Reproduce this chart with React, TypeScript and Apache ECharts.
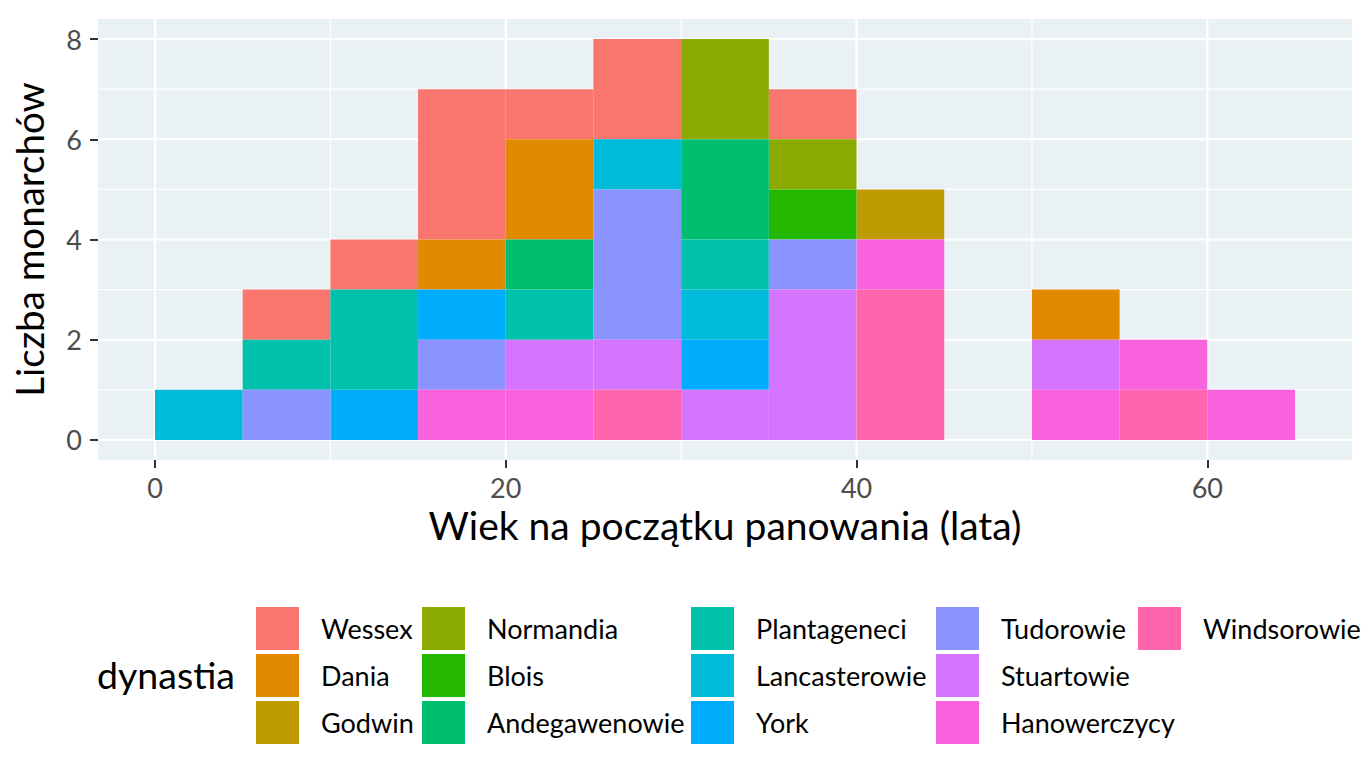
import React, { useEffect, useRef } from "react";
import * as echarts from "echarts";

// przedziały wieku (szerokość 5 lat)
const binStarts = [0, 5, 10, 15, 20, 25, 30, 35, 40, 45, 50, 55, 60];
const binWidth = 5;

const dynasties = [
	"Wessex",
	"Dania",
	"Godwin",
	"Normandia",
	"Blois",
	"Andegawenowie",
	"Plantageneci",
	"Lancasterowie",
	"York",
	"Tudorowie",
	"Stuartowie",
	"Hanowerczycy",
	"Windsorowie",
];

const colors = [
	"#F8766D",
	"#E18A00",
	"#BE9C00",
	"#8CAB00",
	"#24B700",
	"#00BE70",
	"#00C1AB",
	"#00BBDA",
	"#00ACFC",
	"#8B93FF",
	"#D575FE",
	"#F962DD",
	"#FF65AC",
];

// liczba monarchów w każdym przedziale
const wessex = [0, 1, 1, 3, 1, 2, 0, 1, 0, 0, 0, 0, 0];
const dania = [0, 0, 0, 1, 2, 0, 0, 0, 0, 0, 1, 0, 0];
const godwin = [0, 0, 0, 0, 0, 0, 0, 0, 1, 0, 0, 0, 0];
const normandia = [0, 0, 0, 0, 0, 0, 2, 1, 0, 0, 0, 0, 0];
const blois = [0, 0, 0, 0, 0, 0, 0, 1, 0, 0, 0, 0, 0];
const andegawenowie = [0, 0, 0, 0, 1, 0, 2, 0, 0, 0, 0, 0, 0];
const plantageneci = [0, 1, 2, 0, 1, 0, 1, 0, 0, 0, 0, 0, 0];
const lancasterowie = [1, 0, 0, 0, 0, 1, 1, 0, 0, 0, 0, 0, 0];
const york = [0, 0, 1, 1, 0, 0, 1, 0, 0, 0, 0, 0, 0];
const tudorowie = [0, 1, 0, 1, 0, 3, 0, 1, 0, 0, 0, 0, 0];
const stuartowie = [0, 0, 0, 0, 1, 1, 1, 3, 0, 0, 1, 0, 0];
const hanowerczycy = [0, 0, 0, 1, 1, 0, 0, 0, 1, 0, 1, 1, 1];
const windsorowie = [0, 0, 0, 0, 0, 1, 0, 0, 3, 0, 0, 1, 0];

const counts = [
	wessex,
	dania,
	godwin,
	normandia,
	blois,
	andegawenowie,
	plantageneci,
	lancasterowie,
	york,
	tudorowie,
	stuartowie,
	hanowerczycy,
	windsorowie,
];

const xTicks = [0, 20, 40, 60];
const xMinor = [10, 30, 50];
const yTicks = [0, 2, 4, 6, 8];
const yMinor = [1, 3, 5, 7];

// kolumny legendy
const legendCols = [
	["Wessex", "Dania", "Godwin"],
	["Normandia", "Blois", "Andegawenowie"],
	["Plantageneci", "Lancasterowie", "York"],
	["Tudorowie", "Stuartowie", "Hanowerczycy"],
	["Windsorowie"],
];
const legendLefts = [256, 422, 691, 936, 1138];

const FONT = "Lato";

const App: React.FC = () => {
	const chartRef = useRef<HTMLDivElement>(null);

	useEffect(() => {
		if (!chartRef.current) return;
		const chart = echarts.init(chartRef.current, null, { renderer: "svg" });

		// stos: ostatnia dynastia na dole
		const base = binStarts.map(() => 0);
		const stacked: number[][][] = dynasties.map(() => []);
		for (let d = dynasties.length - 1; d >= 0; d--) {
			counts[d].forEach((c, i) => {
				if (c > 0) {
					stacked[d].push([binStarts[i], binStarts[i] + binWidth, base[i], base[i] + c]);
					base[i] += c;
				}
			});
		}

		const barSeries = dynasties.map((name, d) => ({
			type: "custom",
			name,
			z: 3,
			silent: true,
			itemStyle: { color: colors[d] },
			encode: { x: [0, 1], y: [2, 3] },
			data: stacked[d],
			renderItem: (_params: any, api: any) => {
				const p0 = api.coord([api.value(0), api.value(3)]);
				const p1 = api.coord([api.value(1), api.value(2)]);
				return {
					type: "rect",
					shape: { x: p0[0], y: p0[1], width: p1[0] - p0[0], height: p1[1] - p0[1] },
					style: { fill: colors[d] },
				};
			},
		}));

		// linie siatki: [kierunek, wartość, główna]
		const gridData = [
			...xMinor.map((v) => [0, v, 0]),
			...yMinor.map((v) => [1, v, 0]),
			...xTicks.map((v) => [0, v, 1]),
			...yTicks.map((v) => [1, v, 1]),
		];

		const gridSeries = {
			type: "custom",
			name: "siatka",
			z: 1,
			silent: true,
			data: gridData,
			encode: { x: 1, y: 1 },
			renderItem: (params: any, api: any) => {
				const cs = params.coordSys;
				const v = api.value(1);
				const w = api.value(2) ? 2.2 : 1.1;
				if (api.value(0) === 0) {
					const x = api.coord([v, 0])[0];
					return {
						type: "line",
						shape: { x1: x, y1: cs.y, x2: x, y2: cs.y + cs.height },
						style: { stroke: "#ffffff", lineWidth: w },
					};
				}
				const y = api.coord([0, v])[1];
				return {
					type: "line",
					shape: { x1: cs.x, y1: y, x2: cs.x + cs.width, y2: y },
					style: { stroke: "#ffffff", lineWidth: w },
				};
			},
		};

		const legends = legendCols.map((col, i) => ({
			orient: "vertical",
			left: legendLefts[i],
			top: 607,
			padding: 0,
			itemGap: 4,
			itemWidth: 43,
			itemHeight: 43,
			icon: "rect",
			selectedMode: false,
			data: col.map((name) => ({
				name,
				itemStyle: { color: colors[dynasties.indexOf(name)] },
			})),
			textStyle: {
				fontFamily: FONT,
				fontSize: 27,
				color: "#000",
				padding: [0, 0, 0, 17],
			},
		}));

		const option: any = {
			animation: false,
			backgroundColor: "#ffffff",
			grid: {
				left: 98,
				top: 19,
				right: 20,
				bottom: 324,
				show: true,
				backgroundColor: "#EAF1F5",
				borderWidth: 0,
			},
			xAxis: {
				type: "value",
				min: -3.25,
				max: 68.25,
				splitLine: { show: false },
				axisLine: { show: false, onZero: false },
				axisTick: {
					show: true,
					inside: false,
					length: 8,
					customValues: xTicks,
					lineStyle: { color: "#333333", width: 2 },
				},
				axisLabel: {
					customValues: xTicks,
					formatter: (v: number) => (xTicks.includes(v) ? String(v) : ""),
					margin: 14,
					fontFamily: FONT,
					fontSize: 27,
					color: "#4D4D4D",
				},
				name: "Wiek na początku panowania (lata)",
				nameLocation: "middle",
				nameGap: 44,
				nameTextStyle: { fontFamily: FONT, fontSize: 39, color: "#000" },
			},
			yAxis: {
				type: "value",
				min: -0.4,
				max: 8.4,
				splitLine: { show: false },
				axisLine: { show: false, onZero: false },
				axisTick: {
					show: true,
					inside: false,
					length: 8,
					customValues: yTicks,
					lineStyle: { color: "#333333", width: 2 },
				},
				axisLabel: {
					customValues: yTicks,
					formatter: (v: number) => (yTicks.includes(v) ? String(v) : ""),
					margin: 16,
					fontFamily: FONT,
					fontSize: 27,
					color: "#4D4D4D",
				},
				name: "Liczba monarchów",
				nameLocation: "middle",
				nameGap: 50,
				nameTextStyle: { fontFamily: FONT, fontSize: 38.5, color: "#000" },
			},
			legend: legends,
			graphic: [
				{
					type: "text",
					left: 97,
					top: 655,
					style: {
						text: "dynastia",
						fontFamily: FONT,
						fontSize: 37.5,
						fill: "#000",
					},
				},
			],
			series: [gridSeries, ...barSeries],
		};

		chart.setOption(option);

		return () => {
			chart.dispose();
		};
	}, []);

	return (
		<div
			ref={chartRef}
			style={{ position: "absolute", left: 0, top: 0, width: "1372px", height: "784px" }}
		/>
	);
};

export default App;
